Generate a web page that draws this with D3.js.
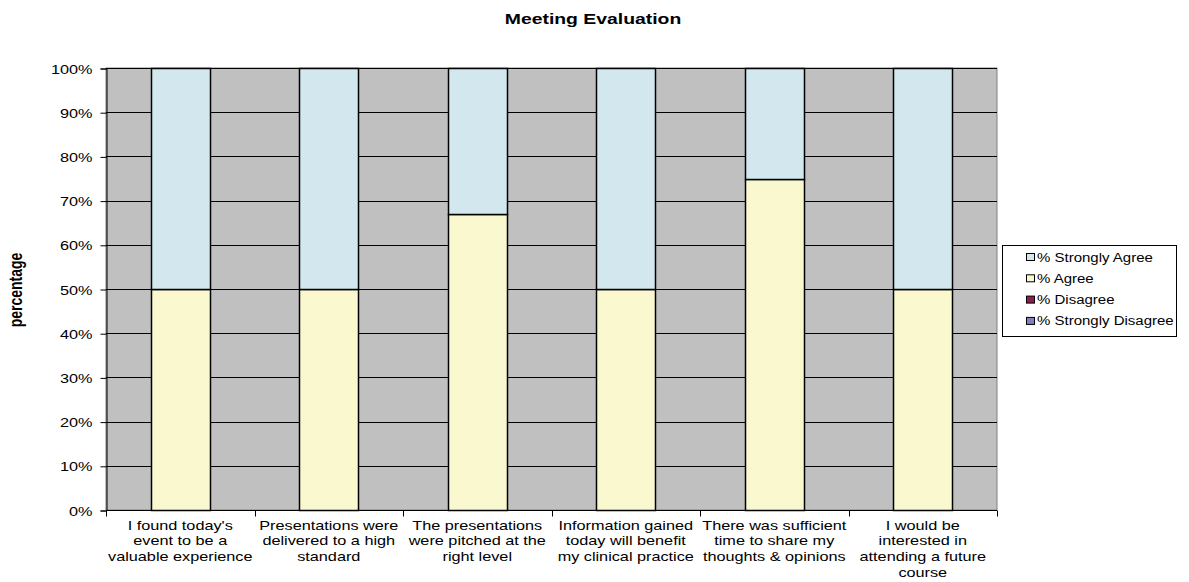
<!DOCTYPE html>
<html>
<head>
<meta charset="utf-8">
<script src="https://cdn.jsdelivr.net/npm/d3@7"></script>
<style>
  body { margin: 0; background: #fff; }
  text { font-family: "Liberation Sans", Arial, sans-serif; fill: #000; }
</style>
</head>
<body>
<svg id="chart" width="1189" height="582"></svg>
<script>
// Survey statements (multi-line labels)
const categories = [
  ["I found today's", "event to be a", "valuable experience"],
  ["Presentations were", "delivered to a high", "standard"],
  ["The presentations", "were pitched at the", "right level"],
  ["Information gained", "today will benefit", "my clinical practice"],
  ["There was sufficient", "time to share my", "thoughts & opinions"],
  ["I would be", "interested in", "attending a future", "course"]
];
// Percentages per response type (stacked bottom to top)
const stronglyDisagree = [0, 0, 0, 0, 0, 0];
const disagree = [0, 0, 0, 0, 0, 0];
const agree = [50, 50, 67, 50, 75, 50];
const stronglyAgree = [50, 50, 33, 50, 25, 50];
const seriesNames = ["% Strongly Disagree", "% Disagree", "% Agree", "% Strongly Agree"];
const seriesColors = ["#8080C0", "#8B1E4A", "#FAF8CE", "#D2E8EE"];
const yTicks = [0, 10, 20, 30, 40, 50, 60, 70, 80, 90, 100];

// Text in this chart is drawn horizontally widened
const SX = 1.25;

const svg = d3.select("#chart");
const plot = { left: 106, right: 997, top: 68, bottom: 510 };

const x = d3.scaleBand()
  .domain(d3.range(categories.length))
  .range([plot.left, plot.right])
  .paddingInner(0.6).paddingOuter(0.3);
const xOuter = d3.scaleBand()
  .domain(d3.range(categories.length))
  .range([plot.left, plot.right]);
const y = d3.scaleLinear().domain([0, 100]).range([plot.bottom, plot.top]);

// Plot background
svg.append("rect")
  .attr("x", plot.left).attr("y", plot.top)
  .attr("width", plot.right - plot.left).attr("height", plot.bottom - plot.top)
  .attr("fill", "#C0C0C0").attr("stroke", "#808080").attr("stroke-width", 1);

// Horizontal gridlines
svg.append("g").selectAll("line").data(yTicks.filter(d => d > 0)).join("line")
  .attr("x1", plot.left).attr("x2", plot.right)
  .attr("y1", d => Math.round(y(d)) + 0.5).attr("y2", d => Math.round(y(d)) + 0.5)
  .attr("stroke", "#000").attr("stroke-width", 1);

// Stacked bars
const rows = d3.range(categories.length).map(i => ({
  i,
  sd: stronglyDisagree[i], d: disagree[i], a: agree[i], sa: stronglyAgree[i]
}));
const stack = d3.stack().keys(["sd", "d", "a", "sa"]);
const layers = stack(rows);
svg.append("g").selectAll("g").data(layers).join("g")
  .attr("fill", (d, k) => seriesColors[k])
  .selectAll("rect").data(d => d.filter(p => p[1] - p[0] > 0)).join("rect")
  .attr("x", p => Math.round(x(p.data.i)) + 0.5)
  .attr("width", Math.round(x.bandwidth()))
  .attr("y", p => Math.round(y(p[1])) + 0.5)
  .attr("height", p => Math.round(y(p[0])) - Math.round(y(p[1])))
  .attr("stroke", "#000").attr("stroke-width", 1.5);

// Y axis
const yAxis = d3.axisLeft(y).tickValues(yTicks).tickFormat(d => d + "%").tickSize(6).tickPadding(8);
const gy = svg.append("g").attr("transform", `translate(${plot.left + 0.5},0.5)`).call(yAxis);
gy.select(".domain").attr("stroke", "#000");
gy.selectAll("line").attr("stroke", "#000");
gy.selectAll("text")
  .attr("font-size", 13).attr("fill", "#000")
  .attr("x", -14 / SX).attr("dy", "0.35em")
  .attr("transform", `scale(${SX},1)`);

// X axis with ticks between categories
const gx = svg.append("g").attr("transform", `translate(0,${plot.bottom + 0.5})`);
gx.append("line").attr("x1", plot.left).attr("x2", plot.right).attr("stroke", "#000");
const bounds = d3.range(categories.length + 1).map(i =>
  i < categories.length ? xOuter(i) : xOuter(i - 1) + xOuter.bandwidth());
gx.selectAll("line.tick").data(bounds).join("line").attr("class", "tick")
  .attr("x1", d => Math.round(d) + 0.5).attr("x2", d => Math.round(d) + 0.5)
  .attr("y1", 0).attr("y2", 6).attr("stroke", "#000");
gx.selectAll("text").data(categories).join("text")
  .attr("text-anchor", "middle").attr("font-size", 13)
  .attr("transform", (d, i) => `translate(${xOuter(i) + xOuter.bandwidth() / 2},19) scale(${SX},1)`)
  .selectAll("tspan").data(d => d).join("tspan")
  .attr("x", 0).attr("dy", (d, j) => j === 0 ? 0 : 16).text(d => d);

// Title
svg.append("text").attr("transform", `translate(593,24) scale(${SX},1)`)
  .attr("text-anchor", "middle")
  .attr("font-size", 15.5).attr("font-weight", "bold").text("Meeting Evaluation");

// Y axis label
svg.append("text").attr("transform", `translate(22,290) scale(${SX},1) rotate(-90)`)
  .attr("text-anchor", "middle").attr("font-size", 14).attr("font-weight", "bold")
  .text("percentage");

// Legend (top entry is the top of the stack)
const legend = svg.append("g");
legend.append("rect").attr("x", 1002.5).attr("y", 245.5).attr("width", 174).attr("height", 91)
  .attr("fill", "#fff").attr("stroke", "#000");
const legendOrder = [3, 2, 1, 0];
const li = legend.selectAll("g.item").data(legendOrder).join("g").attr("class", "item")
  .attr("transform", (d, j) => `translate(1026,${257 + j * 21.3})`);
li.append("rect").attr("x", 0.5).attr("y", -3.5).attr("width", 8).attr("height", 7)
  .attr("fill", d => seriesColors[d]).attr("stroke", "#000");
li.append("text").attr("transform", `translate(11,4.5) scale(${SX},1)`)
  .attr("font-size", 12).text(d => seriesNames[d]);
</script>
</body>
</html>
